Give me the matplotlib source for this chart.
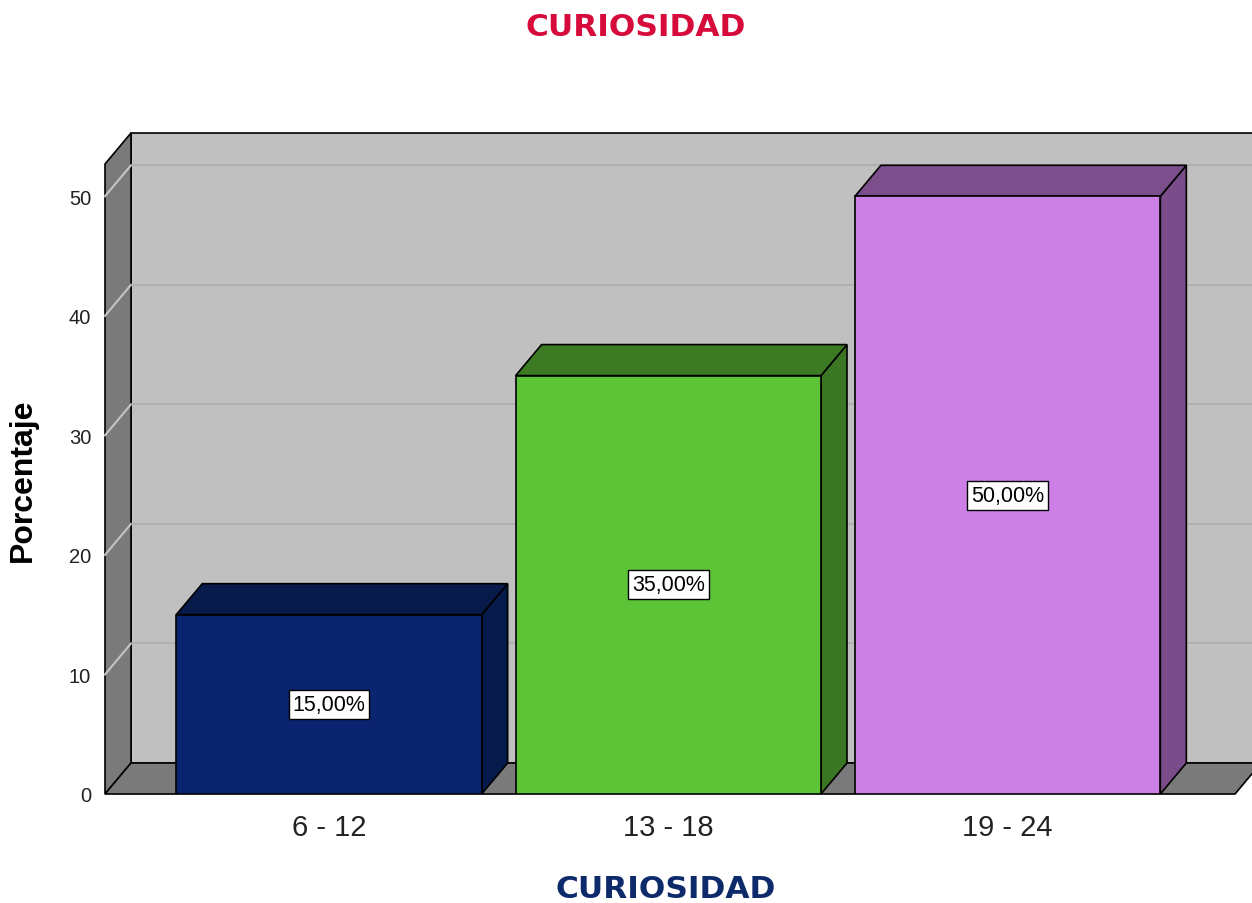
import numpy as np
import matplotlib.pyplot as plt
from matplotlib.patches import Polygon

# данные
categorias = ['6 - 12', '13 - 18', '19 - 24']
porcentajes = [15.0, 35.0, 50.0]
y_ticks = [0, 10, 20, 30, 40, 50]

# цвета граней: фронт, верх, бок
col_front = ['#0a246f', '#5ec437', '#cc80e6']
col_top = ['#071a4a', '#3d7a24', '#7c4f8c']
col_side = ['#061a4c', '#3a7624', '#7a4c8a']

fig = plt.figure(figsize=(12.52, 9.04), dpi=100)
W, H = 1252, 904
ax = fig.add_axes([105 / W, (H - 795) / H, 1130 / W, 630 / H])
xmin, xmax = -0.66, 2.67
ymax = 52.7
ax.set_xlim(xmin, xmax)
ax.set_ylim(0, ymax)
for s in ax.spines.values():
    s.set_visible(False)

# смещение глубины (в пикселях) -> в единицы данных
p0 = ax.transData.transform((xmin, 0))
p1 = ax.transData.inverted().transform(p0 + np.array([26, 31]))
DX, DY = p1[0] - xmin, p1[1]


def poly(pts, fc, ec='black', lw=1.2, z=1):
    ax.add_patch(Polygon(pts, closed=True, fc=fc, ec=ec, lw=lw,
                         zorder=z, clip_on=False, joinstyle='miter'))


# задняя стенка
poly([(xmin + DX, DY), (xmax + DX + 1, DY), (xmax + DX + 1, ymax + DY),
      (xmin + DX, ymax + DY)], '#c0c0c0', z=0)
for v in y_ticks[1:]:
    ax.plot([xmin + DX, xmax + DX + 1], [v + DY, v + DY], color='#b0b0b0',
            lw=1.5, zorder=0.5, clip_on=False)

# левая стенка
poly([(xmin, 0), (xmin, ymax), (xmin + DX, ymax + DY), (xmin + DX, DY)],
     '#7a7a7a', z=1)
for v in y_ticks[1:]:
    ax.plot([xmin, xmin + DX], [v, v + DY], color='#c4c4c4', lw=1.5,
            zorder=1.5, clip_on=False)

# пол
poly([(xmin, 0), (xmax, 0), (xmax + DX, DY), (xmin + DX, DY)], '#7a7a7a', z=1)

# столбцы
x = np.arange(len(categorias))
bw = 0.9
bars = ax.bar(x, porcentajes, width=bw, color=col_front, edgecolor='black',
              lw=1.2, zorder=3)
for i, (xi, v) in enumerate(zip(x, porcentajes)):
    l, r = xi - bw / 2, xi + bw / 2
    # боковая грань
    poly([(r, 0), (r, v), (r + DX, v + DY), (r + DX, DY)], col_side[i], z=2)
    # верхняя грань
    poly([(l, v), (r, v), (r + DX, v + DY), (l + DX, v + DY)], col_top[i], z=2)
    ax.text(xi, v / 2, f'{v:.2f}%'.replace('.', ','), ha='center',
            va='center', fontsize=15.5, family='Liberation Sans', zorder=5,
            bbox=dict(boxstyle='square,pad=0.18', fc='white', ec='black',
                      lw=1))

ax.set_xticks(x)
ax.set_xticklabels(categorias, fontsize=21, family='Liberation Sans',
                   color='#222222')
ax.set_yticks(y_ticks)
ax.set_yticklabels([str(t) for t in y_ticks], fontsize=14.5,
                   family='Liberation Sans', color='#222222')
ax.tick_params(axis='y', length=0, pad=10)
ax.tick_params(axis='x', length=0, pad=14)

ax.set_ylabel('Porcentaje', fontsize=23, fontweight='bold',
              family='Liberation Sans')
ax.yaxis.set_label_coords(-0.059, 0.5)

fig.text(636 / W, 1 - 28 / H, 'CURIOSIDAD', ha='center', va='center',
         fontsize=22.5, fontweight='bold', color='#d70a3c')
fig.text(666 / W, 1 - 890 / H, 'CURIOSIDAD', ha='center', va='center',
         fontsize=22.5, fontweight='bold', color='#0d2a6b')

fig.savefig('out.png', dpi=100)
